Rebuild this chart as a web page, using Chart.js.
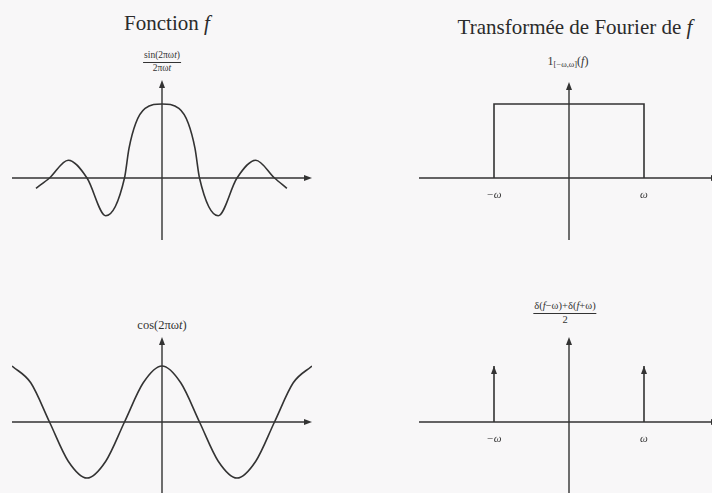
<!DOCTYPE html>
<html>
<head>
<meta charset="utf-8">
<script src="https://cdn.jsdelivr.net/npm/chart.js@4.4.0/dist/chart.umd.min.js"></script>
<style>
body { margin:0; width:712px; height:493px; overflow:hidden; background:#f8f7f8; position:relative; font-family:"Liberation Serif", serif; color:#333; }
canvas { position:absolute; }
.lbl { position:absolute; transform:translate(-50%,-50%); white-space:nowrap; line-height:1; }
.title { font-size:21px; color:#2b2b2b; }
.frac { text-align:center; }
.frac .num { display:block; border-bottom:1px solid #333; padding:0 1px 1px; }
.frac .den { display:block; padding-top:1px; }
sub { font-size:70%; vertical-align:-2px; }
</style>
</head>
<body>
<div class="lbl title" style="left:167px;top:23px">Fonction <i>f</i></div>
<div class="lbl title" style="left:575px;top:27px">Transformée de Fourier de <i>f</i></div>

<div class="lbl frac" style="left:162px;top:62px;font-size:9.5px"><span class="num">sin(2πω<i>t</i>)</span><span class="den">2πω<i>t</i></span></div>
<div class="lbl" style="left:568px;top:62px;font-size:12px">1<sub>[−ω,ω]</sub>(<i>f</i>)</div>
<div class="lbl" style="left:162px;top:325px;font-size:12.5px">cos(2πω<i>t</i>)</div>
<div class="lbl frac" style="left:565px;top:313px;font-size:10.5px"><span class="num">δ(<i>f</i>−ω)+δ(<i>f</i>+ω)</span><span class="den">2</span></div>

<canvas id="c1" width="316" height="176" style="left:4px;top:72px"></canvas>
<canvas id="c2" width="316" height="174" style="left:411px;top:74px"></canvas>
<canvas id="c3" width="316" height="179" style="left:4px;top:329px"></canvas>
<canvas id="c4" width="316" height="179" style="left:411px;top:329px"></canvas>

<script>
// fonction sinc (x en unites de 1/(4ω), y normalise au pic)
var sincX = [-3.36, -3, -2.5, -2, -1.5, -1, -0.88, -0.7, -0.45, 0, 0.45, 0.7, 0.88, 1, 1.5, 2, 2.5, 3, 3.33];
var sincY = [-0.14, 0, 0.24, 0, -0.51, 0, 0.4, 0.74, 0.94, 1, 0.94, 0.74, 0.4, 0, -0.51, 0, 0.24, 0, -0.14];

// fonction cosinus
var cosX = [-4, -3.5, -3, -2.5, -2, -1.5, -1, -0.5, 0, 0.5, 1, 1.5, 2, 2.5, 3, 3.5, 4];
var cosY = [1, 0.7, 0, -0.7, -1, -0.7, 0, 0.7, 1, 0.7, 0, -0.7, -1, -0.7, 0, 0.7, 1];

// indicatrice de [-ω, ω]
var rectX = [-1, -1, 1, 1];
var rectY = [0, 1, 1, 0];

// diracs en -ω et ω
var diracX = [-1, 1];
var diracY = [1, 1];

// graduations
var tickVals = [-1, 1];
var tickLabels = ['−ω', 'ω'];

var ink = '#333';

function toPoints(xs, ys) {
    return xs.map(function (x, i) { return { x: x, y: ys[i] }; });
}

function arrow(ctx, x, y, dir) {
    var l = 8, w = 3;
    ctx.beginPath();
    if (dir == 'r') {
        ctx.moveTo(x, y); ctx.lineTo(x - l, y - w); ctx.lineTo(x - l, y + w);
    } else {
        ctx.moveTo(x, y); ctx.lineTo(x - w, y + l); ctx.lineTo(x + w, y + l);
    }
    ctx.closePath();
    ctx.fill();
}

var axesPlugin = {
    id: 'axes',
    beforeDatasetsDraw: function (chart) {
        var ctx = chart.ctx, a = chart.chartArea;
        var x0 = chart.scales.x.getPixelForValue(0);
        var y0 = chart.scales.y.getPixelForValue(0);
        ctx.save();
        ctx.strokeStyle = ink;
        ctx.fillStyle = ink;
        ctx.lineWidth = 1.4;
        ctx.beginPath();
        ctx.moveTo(a.left, y0); ctx.lineTo(a.right - 4, y0);
        ctx.moveTo(x0, a.bottom); ctx.lineTo(x0, a.top + 4);
        ctx.stroke();
        arrow(ctx, a.right, y0, 'r');
        arrow(ctx, x0, a.top, 'u');
        var o = chart.options.plugins.axes;
        if (o && o.ticks) {
            ctx.font = 'italic 11px "Liberation Serif"';
            ctx.textAlign = 'center';
            ctx.textBaseline = 'middle';
            o.ticks.forEach(function (v, i) {
                ctx.fillText(o.labels[i], chart.scales.x.getPixelForValue(v), y0 + 17);
            });
        }
        ctx.restore();
    },
    afterDatasetsDraw: function (chart) {
        var ctx = chart.ctx;
        ctx.save();
        ctx.fillStyle = ink;
        chart.data.datasets.forEach(function (ds, i) {
            if (!ds.arrowTip) return;
            var pts = chart.getDatasetMeta(i).data;
            var last = pts[pts.length - 1];
            arrow(ctx, last.x, last.y, 'u');
        });
        ctx.restore();
    }
};

function makeChart(id, datasets, xMin, xMax, yMin, yMax, withTicks) {
    return new Chart(document.getElementById(id), {
        type: 'line',
        data: { datasets: datasets },
        options: {
            responsive: false,
            animation: false,
            layout: { padding: 8 },
            elements: { point: { radius: 0 } },
            scales: {
                x: { type: 'linear', display: false, min: xMin, max: xMax },
                y: { type: 'linear', display: false, min: yMin, max: yMax }
            },
            plugins: {
                legend: { display: false },
                tooltip: { enabled: false },
                axes: withTicks ? { ticks: tickVals, labels: tickLabels } : {}
            }
        },
        plugins: [axesPlugin]
    });
}

function curve(xs, ys, smooth) {
    return {
        data: toPoints(xs, ys),
        borderColor: ink,
        borderWidth: 1.6,
        fill: false,
        tension: 0,
        cubicInterpolationMode: smooth ? 'monotone' : 'default'
    };
}

makeChart('c1', [curve(sincX, sincY, true)], -4, 4, -0.838, 1.324, false);
makeChart('c2', [curve(rectX, rectY, false)], -2, 2, -0.838, 1.297, true);
makeChart('c3', [curve(cosX, cosY, true)], -4, 4, -1.393, 1.518, false);

var diracSets = diracX.map(function (x, i) {
    var ds = curve([x, x], [0, diracY[i]], false);
    ds.arrowTip = true;
    return ds;
});
makeChart('c4', diracSets, -2, 2, -1.393, 1.518, true);
</script>
</body>
</html>
